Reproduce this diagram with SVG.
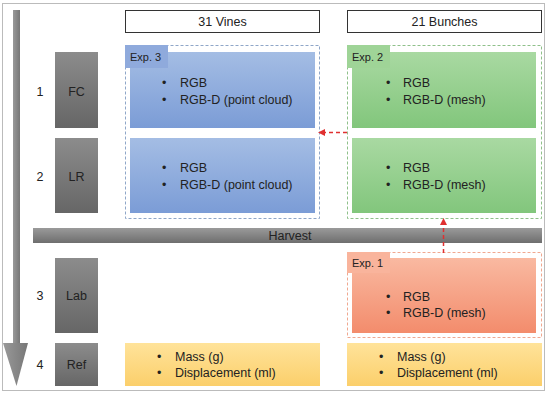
<svg xmlns="http://www.w3.org/2000/svg" width="550" height="395" viewBox="0 0 550 395">
<defs>
<linearGradient id="gGray" x1="0" y1="0" x2="0" y2="1"><stop offset="0" stop-color="#8c8c8c"/><stop offset="1" stop-color="#666"/></linearGradient>
<linearGradient id="gBar" x1="0" y1="0" x2="0" y2="1"><stop offset="0" stop-color="#9a9a9a"/><stop offset="1" stop-color="#6e6e6e"/></linearGradient>
<linearGradient id="gArrow" x1="0" y1="0" x2="1" y2="0"><stop offset="0" stop-color="#999"/><stop offset="1" stop-color="#777"/></linearGradient>
<linearGradient id="gBlue" x1="0" y1="0" x2="0" y2="1"><stop offset="0" stop-color="#a4bde4"/><stop offset="1" stop-color="#7b9cd6"/></linearGradient>
<linearGradient id="gGreen" x1="0" y1="0" x2="0" y2="1"><stop offset="0" stop-color="#a9d9a2"/><stop offset="1" stop-color="#82c67c"/></linearGradient>
<linearGradient id="gRed" x1="0" y1="0" x2="0" y2="1"><stop offset="0" stop-color="#f9b9a1"/><stop offset="1" stop-color="#f38c6c"/></linearGradient>
<linearGradient id="gYellow" x1="0" y1="0" x2="0" y2="1"><stop offset="0" stop-color="#ffe39a"/><stop offset="1" stop-color="#fbcf6b"/></linearGradient>
<marker id="redHead" markerWidth="7" markerHeight="7" refX="6" refY="3.5" orient="auto" markerUnits="userSpaceOnUse"><path d="M0,0 L7,3.5 L0,7 Z" fill="#e03030"/></marker>
<style>
text{font-family:"Liberation Sans",Arial,sans-serif;fill:#222;}
.t{font-size:12.5px;}
.lbl{font-size:12.5px;text-anchor:middle;}
.exp{font-size:11px;}
.hdr{fill:#fff;stroke:#333;stroke-width:1;}
.dash{fill:none;stroke-width:1;stroke-dasharray:3,2;}
.red{stroke:#e03030;stroke-width:1.5;stroke-dasharray:4,3;fill:none;}
</style>
</defs>
<rect x="2.5" y="3.5" width="542" height="387" fill="#fff" stroke="#bbb" stroke-width="1"/>
<g id="timeline">
<rect x="13" y="10" width="7" height="334" fill="url(#gArrow)"/>
<path d="M3,343 L28,343 L16.5,386 Z" fill="url(#gArrow)"/>
</g>
<g id="numbers">
<text class="lbl" x="40" y="96">1</text>
<text class="lbl" x="40" y="181">2</text>
<text class="lbl" x="40" y="300">3</text>
<text class="lbl" x="40" y="369">4</text>
</g>
<g id="FC"><rect x="55" y="52" width="43" height="76" fill="url(#gGray)"/><text class="lbl" x="76.5" y="96">FC</text></g>
<g id="LR"><rect x="55" y="138" width="43" height="75" fill="url(#gGray)"/><text class="lbl" x="76.5" y="181">LR</text></g>
<g id="Lab"><rect x="55" y="258" width="43" height="75" fill="url(#gGray)"/><text class="lbl" x="76.5" y="300">Lab</text></g>
<g id="Ref"><rect x="55" y="343" width="43" height="43" fill="url(#gGray)"/><text class="lbl" x="76.5" y="369">Ref</text></g>
<g id="harvest"><rect x="33" y="228" width="509" height="15" fill="url(#gBar)"/><text class="lbl" x="290" y="240">Harvest</text></g>
<g id="vines"><rect class="hdr" x="125.5" y="10.5" width="194" height="22"/><text class="lbl" x="222.5" y="26">31 Vines</text></g>
<g id="bunches"><rect class="hdr" x="347.5" y="10.5" width="194" height="22"/><text class="lbl" x="444.5" y="26">21 Bunches</text></g>
<g id="exp3">
<rect class="dash" x="125.5" y="45.5" width="194" height="173" stroke="#8fa6c8"/>
<rect x="130" y="52" width="185" height="76" fill="url(#gBlue)"/>
<rect x="130" y="138" width="185" height="75" fill="url(#gBlue)"/>
<rect x="125" y="45" width="43" height="23" fill="#8faadc"/>
<text class="exp" x="130" y="61">Exp. 3</text>
<text class="t" x="162" y="87">•</text><text class="t" x="180" y="87">RGB</text>
<text class="t" x="162" y="104">•</text><text class="t" x="180" y="104">RGB-D (point cloud)</text>
<text class="t" x="162" y="172">•</text><text class="t" x="180" y="172">RGB</text>
<text class="t" x="162" y="189">•</text><text class="t" x="180" y="189">RGB-D (point cloud)</text>
</g>
<g id="exp2">
<rect class="dash" x="347.5" y="45.5" width="194" height="173" stroke="#8fc08a"/>
<rect x="352" y="52" width="184" height="76" fill="url(#gGreen)"/>
<rect x="352" y="138" width="184" height="75" fill="url(#gGreen)"/>
<rect x="347" y="45" width="43" height="23" fill="#9fd497"/>
<text class="exp" x="352" y="61">Exp. 2</text>
<text class="t" x="386" y="87">•</text><text class="t" x="403" y="87">RGB</text>
<text class="t" x="386" y="104">•</text><text class="t" x="403" y="104">RGB-D (mesh)</text>
<text class="t" x="386" y="172">•</text><text class="t" x="403" y="172">RGB</text>
<text class="t" x="386" y="189">•</text><text class="t" x="403" y="189">RGB-D (mesh)</text>
</g>
<g id="exp1">
<rect class="dash" x="347.5" y="252.5" width="194" height="85" stroke="#f0a890"/>
<rect x="352" y="258" width="184" height="75" fill="url(#gRed)"/>
<rect x="347" y="252" width="43" height="21" fill="#f9b49c"/>
<text class="exp" x="352" y="267">Exp. 1</text>
<text class="t" x="386" y="301">•</text><text class="t" x="403" y="301">RGB</text>
<text class="t" x="386" y="317">•</text><text class="t" x="403" y="317">RGB-D (mesh)</text>
</g>
<g id="refVines">
<rect x="125" y="343" width="195" height="43" fill="url(#gYellow)"/>
<text class="t" x="157" y="361">•</text><text class="t" x="175" y="361">Mass (g)</text>
<text class="t" x="157" y="377">•</text><text class="t" x="175" y="377">Displacement (ml)</text>
</g>
<g id="refBunches">
<rect x="347" y="343" width="195" height="43" fill="url(#gYellow)"/>
<text class="t" x="379" y="361">•</text><text class="t" x="397" y="361">Mass (g)</text>
<text class="t" x="379" y="377">•</text><text class="t" x="397" y="377">Displacement (ml)</text>
</g>
<g id="connectors">
<line class="red" x1="347" y1="132.5" x2="319" y2="132.5" marker-end="url(#redHead)"/>
<line class="red" x1="443.5" y1="253" x2="443.5" y2="219" marker-end="url(#redHead)"/>
</g>
</svg>
